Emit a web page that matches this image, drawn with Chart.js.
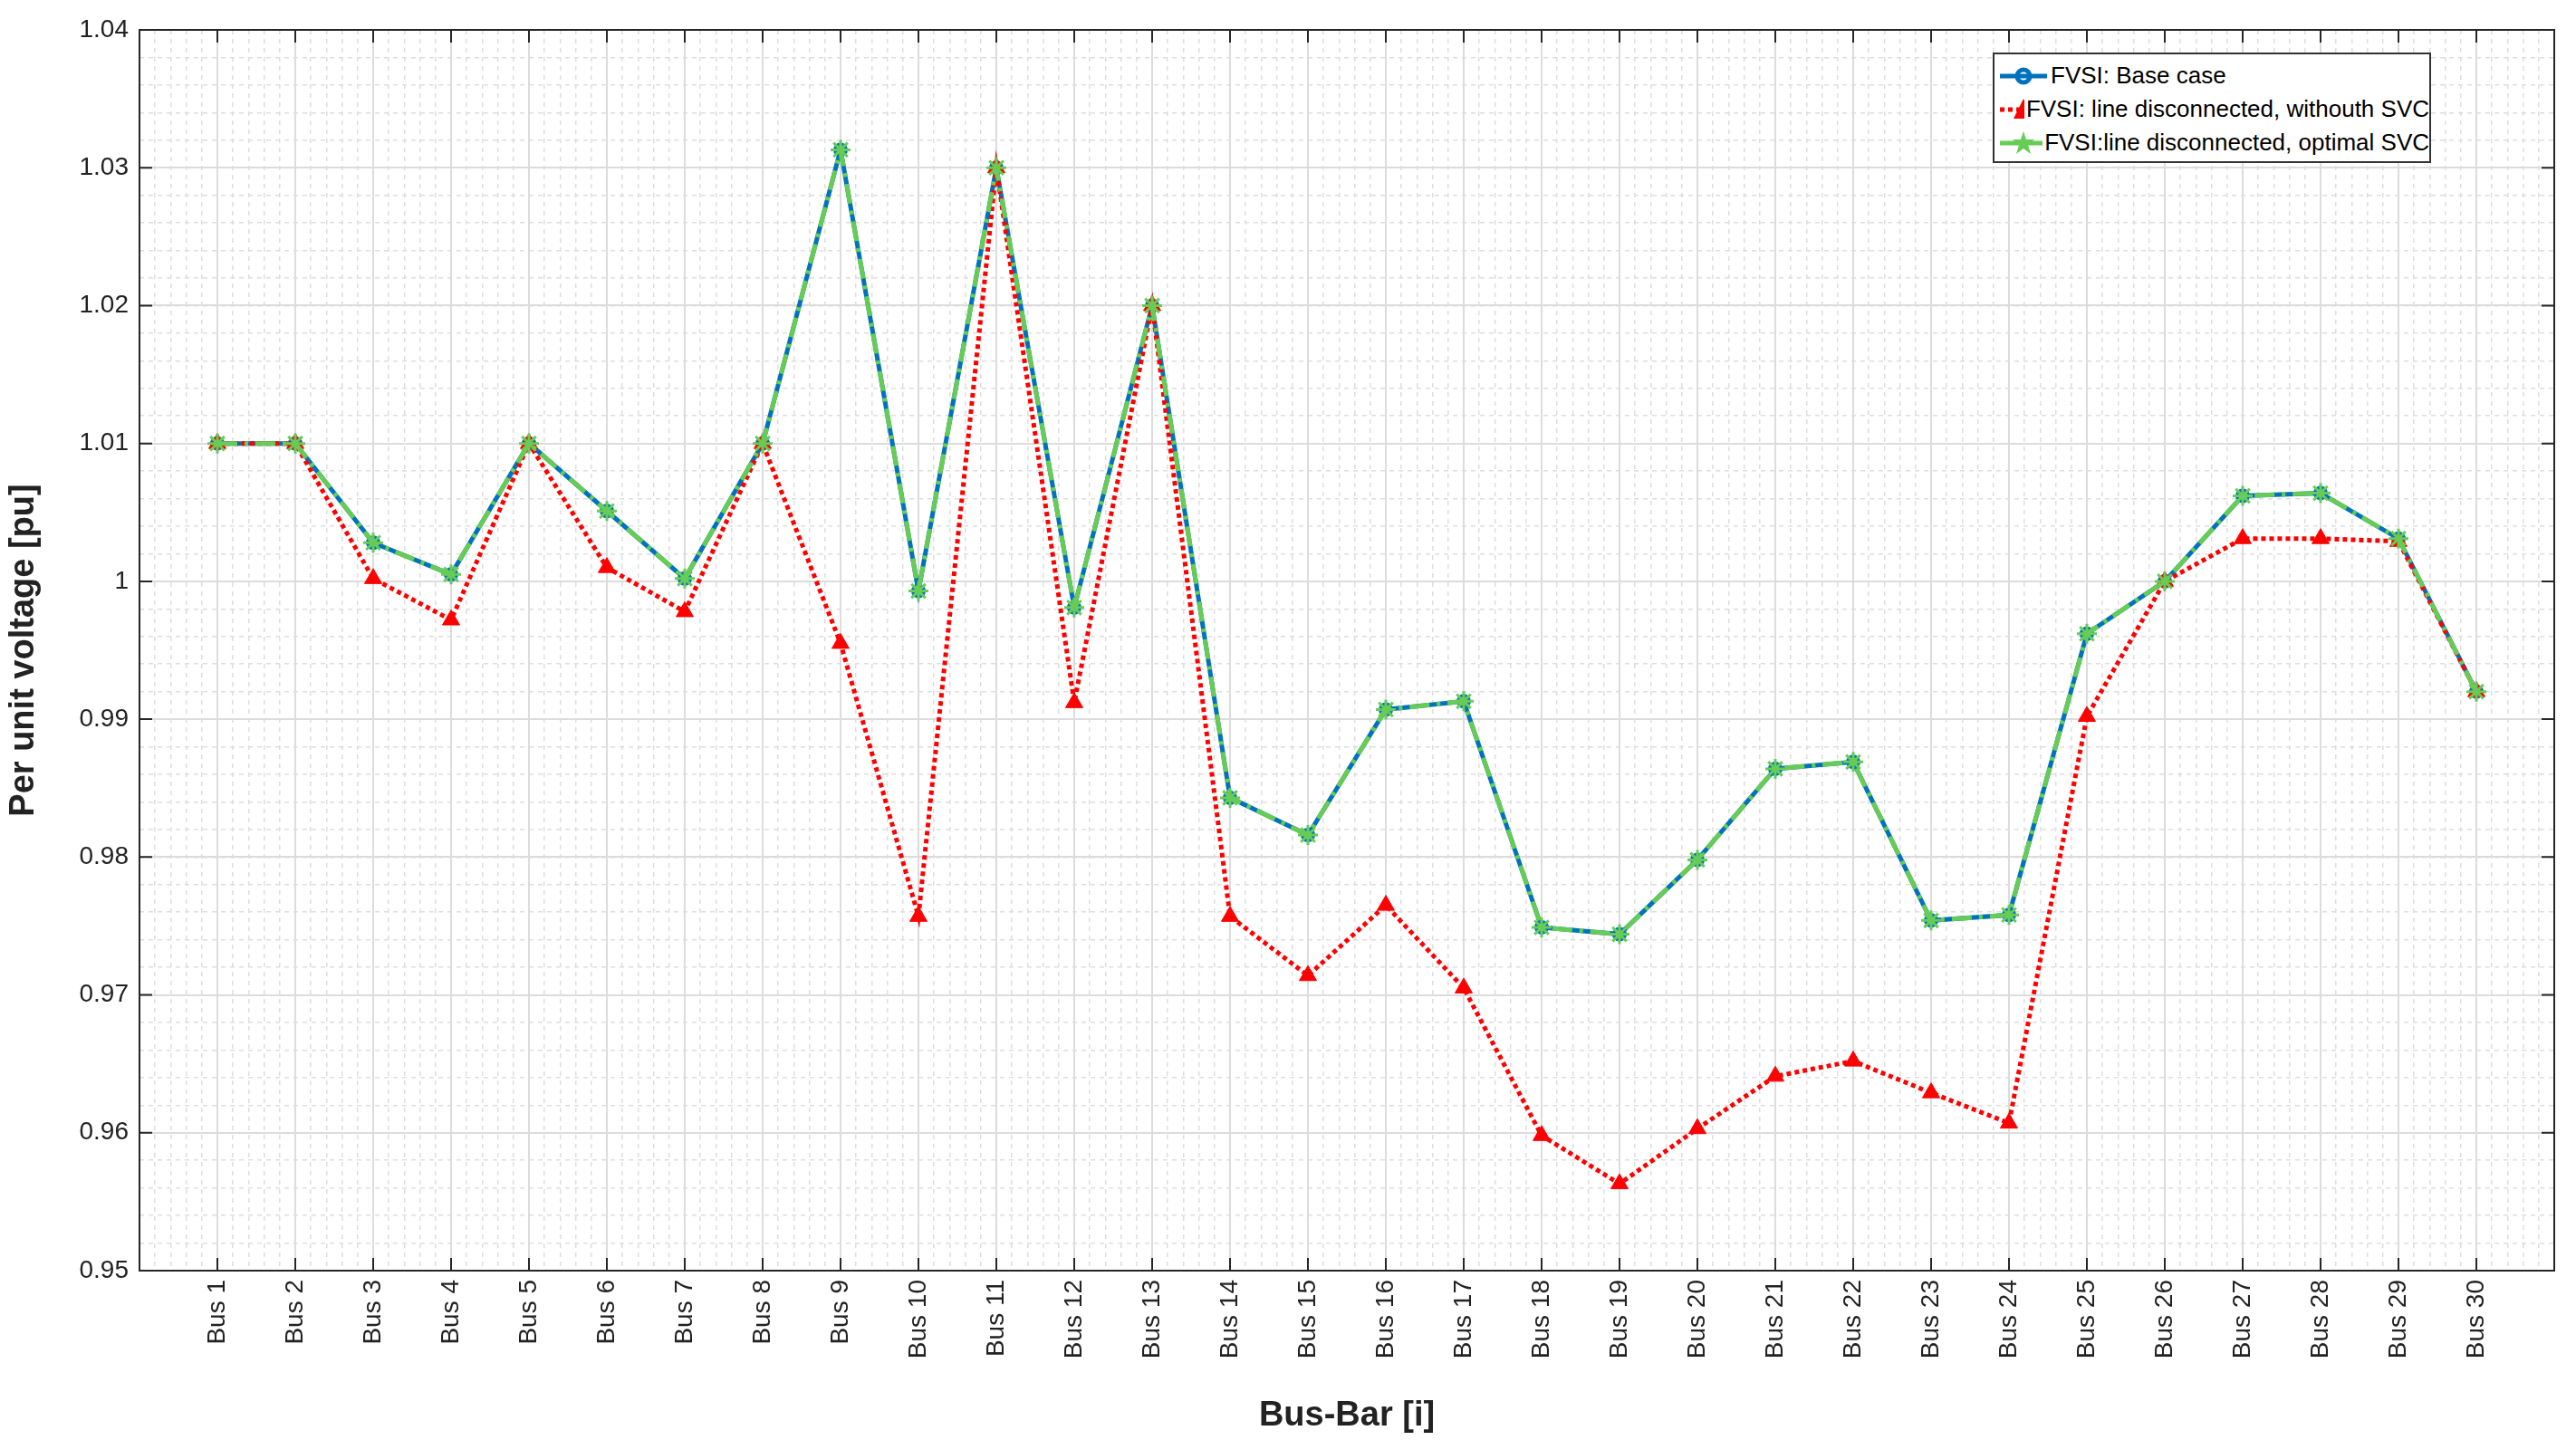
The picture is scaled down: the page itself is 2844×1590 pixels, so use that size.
<!DOCTYPE html>
<html><head><meta charset="utf-8">
<script src="https://cdn.jsdelivr.net/npm/chart.js@4"></script>
<style>
html,body{margin:0;padding:0;background:#fff;}
#wrap{position:relative;width:2844px;height:1590px;}
#legend{position:absolute;left:2200px;top:58px;width:484px;height:122px;border:2px solid #333;background:#fff;font-family:"Liberation Sans",Arial,sans-serif;font-size:26px;color:#000;box-sizing:border-box;padding-top:5px;}
#legend div{height:37px;display:flex;align-items:center;white-space:nowrap;}
#legend svg{margin:0 2px 0 4px;}
</style></head><body>
<div id="wrap"><canvas id="c" width="2844" height="1590"></canvas>
<div id="legend">
<div><svg width="56" height="30"><line x1="2" y1="15" x2="54" y2="15" stroke="#0072BD" stroke-width="5"/><circle cx="28" cy="15" r="7" fill="none" stroke="#0072BD" stroke-width="5"/></svg>FVSI: Base case</div>
<div><svg width="56" height="30"><line x1="2" y1="15" x2="54" y2="15" stroke="#ff0000" stroke-width="5" stroke-dasharray="5,4"/><polygon points="28,3 39,25 17,25" fill="#ff0000"/></svg>FVSI: line disconnected, withouth SVC</div>
<div><svg width="56" height="30"><line x1="2" y1="15" x2="54" y2="15" stroke="#66cc55" stroke-width="5"/><polygon points="28,2 31,11 40,11 33,17 36,27 28,21 20,27 23,17 16,11 25,11" fill="#66cc55"/></svg>FVSI:line disconnected, optimal SVC</div>
</div></div>
<script>
const buses = [1,2,3,4,5,6,7,8,9,10,11,12,13,14,15,16,17,18,19,20,21,22,23,24,25,26,27,28,29,30];
const baseCase = [1.010,1.010,1.0028,1.0005,1.010,1.0051,1.0002,1.010,1.0313,0.9993,1.030,0.9981,1.020,0.9843,0.9816,0.9907,0.9913,0.9749,0.9744,0.9798,0.9864,0.9869,0.9754,0.9758,0.9962,1.000,1.0062,1.0064,1.0031,0.9920];
const withoutSVC = [1.010,1.010,1.0002,0.9972,1.010,1.0010,0.9978,1.010,0.9955,0.9757,1.030,0.9912,1.020,0.9757,0.9714,0.9765,0.9705,0.9598,0.9563,0.9603,0.9641,0.9652,0.9629,0.9607,0.9902,1.000,1.0031,1.0031,1.0029,0.9920];
const optimalSVC = [1.010,1.010,1.0028,1.0005,1.010,1.0051,1.0002,1.010,1.0313,0.9993,1.030,0.9981,1.020,0.9843,0.9816,0.9907,0.9913,0.9749,0.9744,0.9798,0.9864,0.9869,0.9754,0.9758,0.9962,1.000,1.0062,1.0064,1.0031,0.9920];
const yTicks = [0.95,0.96,0.97,0.98,0.99,1,1.01,1.02,1.03,1.04];

const pts = arr => buses.map((b,i)=>({x:b,y:arr[i]}));
const FONT = '"Liberation Sans", Arial, sans-serif';

const boxPlugin = {id:'box', afterDatasetsDraw(ch){
  const a=ch.chartArea, c=ch.ctx; c.save();
  c.strokeStyle='#262626'; c.lineWidth=2;
  c.strokeRect(a.left,a.top,a.right-a.left,a.bottom-a.top);
  const xs=ch.scales.x, ys=ch.scales.y;
  c.beginPath();
  buses.forEach(b=>{const px=xs.getPixelForValue(b); c.moveTo(px,a.bottom); c.lineTo(px,a.bottom-14); c.moveTo(px,a.top); c.lineTo(px,a.top+14);});
  yTicks.forEach(v=>{const py=ys.getPixelForValue(v); c.moveTo(a.left,py); c.lineTo(a.left+14,py); c.moveTo(a.right,py); c.lineTo(a.right-14,py);});
  c.stroke(); c.restore();
}};

new Chart(document.getElementById('c'),{
  type:'line',
  data:{datasets:[
    {label:'FVSI: Base case',order:3,data:pts(baseCase),borderColor:'#0072BD',backgroundColor:'#fff',borderWidth:5,pointStyle:'circle',pointRadius:6,pointBorderWidth:4,pointBorderColor:'#0072BD',pointBackgroundColor:'#fff'},
    {label:'FVSI: line disconnected, withouth SVC',order:2,data:pts(withoutSVC),borderColor:'#ff0000',backgroundColor:'#ff0000',borderWidth:5,borderDash:[5,4],pointStyle:'triangle',pointRadius:11,pointBorderWidth:1,pointBackgroundColor:'#ff0000'},
    {label:'FVSI:line disconnected, optimal SVC',order:1,data:pts(optimalSVC),borderColor:'#66cc55',backgroundColor:'rgba(102,204,85,0.6)',borderWidth:5,borderDash:[22,8,4,8],pointStyle:'star',pointRadius:11,pointBorderWidth:3,pointBorderColor:'#66cc55'}
  ]},
  options:{
    responsive:false,animation:false,
    layout:{padding:{top:33,right:24,left:0,bottom:0}},
    plugins:{legend:{display:false},tooltip:{enabled:false}},
    scales:{
      xm:{type:'linear',min:0,max:31,position:'bottom',afterFit(s){s.height=0;},
        ticks:{display:false,stepSize:0.2},border:{display:false,dash:[5,5]},
        grid:{color:'#dedede',lineWidth:1.5,drawTicks:false}},
      ym:{type:'linear',min:0.95,max:1.04,position:'left',afterFit(s){s.width=0;},
        ticks:{display:false,stepSize:0.002},border:{display:false,dash:[5,5]},
        grid:{color:'#dedede',lineWidth:1.5,drawTicks:false}},
      x:{type:'linear',min:0,max:31,position:'bottom',afterFit(s){s.height=187;},
        afterBuildTicks(s){s.ticks=buses.map(v=>({value:v}));},
        ticks:{autoSkip:false,minRotation:90,maxRotation:90,font:{family:FONT,size:28},color:'#222',padding:10,callback:v=>'Bus '+v},
        grid:{color:'#dcdcdc',lineWidth:2,drawTicks:false},border:{display:false},
        title:{display:true,text:'Bus-Bar [i]',font:{family:FONT,size:38,weight:'bold'},color:'#222',padding:{top:0}}},
      y:{type:'linear',min:0.95,max:1.04,position:'left',afterFit(s){s.width=154;},
        afterBuildTicks(s){s.ticks=yTicks.map(v=>({value:v}));},
        ticks:{font:{family:FONT,size:28},color:'#222',padding:12,callback:v=>String(parseFloat(v.toFixed(2)))},
        grid:{color:'#dcdcdc',lineWidth:2,drawTicks:false},border:{display:false},
        title:{display:true,text:'Per unit voltage [pu]',font:{family:FONT,size:38,weight:'bold'},color:'#222',padding:{bottom:6}}}
    }
  },
  plugins:[boxPlugin]
});
</script></body></html>
